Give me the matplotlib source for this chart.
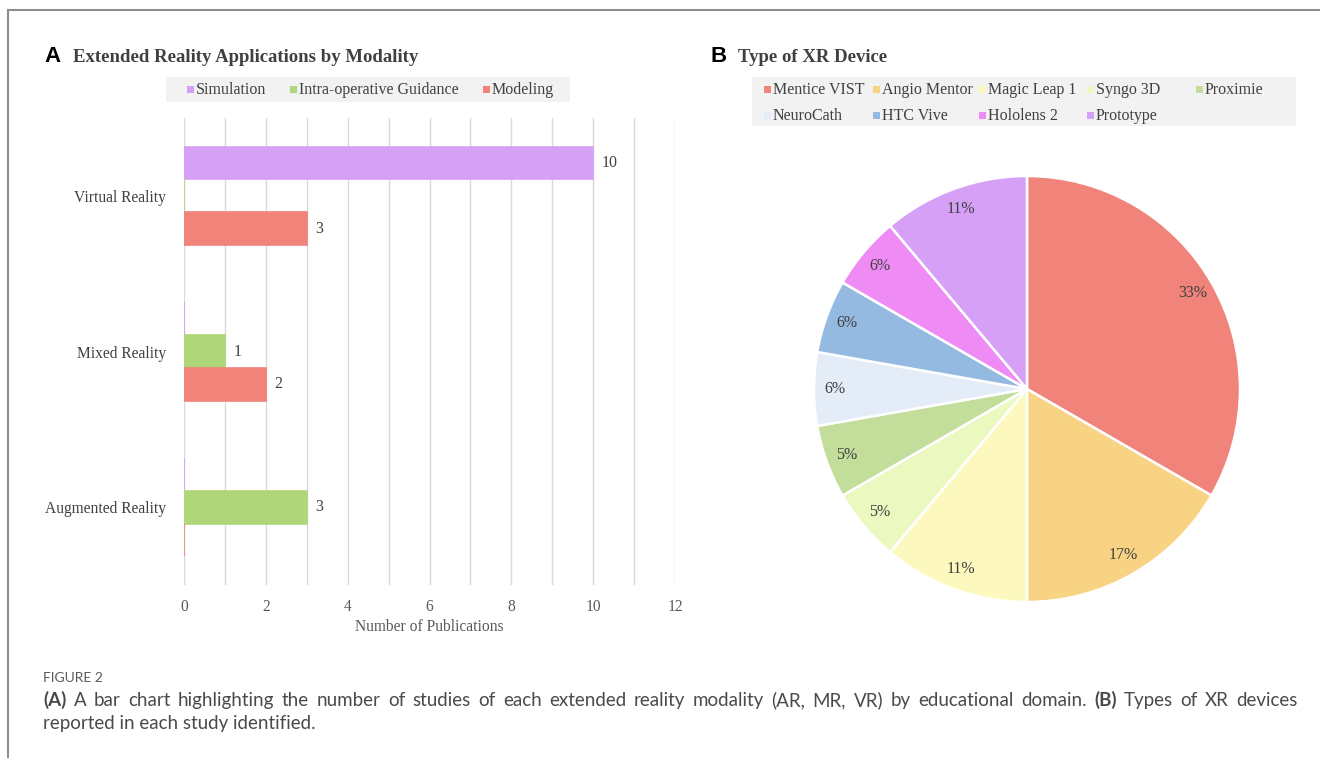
import matplotlib
matplotlib.use("Agg")
import matplotlib.pyplot as plt
from matplotlib.patches import Rectangle
import numpy as np

# ---- data ----
modalities = ["Augmented Reality", "Mixed Reality", "Virtual Reality"]
series_names = ["Simulation", "Intra-operative Guidance", "Modeling"]
simulation = [0, 0, 10]
guidance = [3, 1, 0]
modeling = [0, 2, 3]
bar_colors = ["#D5A0F5", "#B0D67A", "#F0837A"]

devices = ["Mentice VIST", "Angio Mentor", "Magic Leap 1", "Syngo 3D", "Proximie",
           "NeuroCath", "HTC Vive", "Hololens 2", "Prototype"]
device_counts = [6, 3, 2, 1, 1, 1, 1, 1, 2]
device_pct_labels = ["33%", "17%", "11%", "5%", "5%", "6%", "6%", "6%", "11%"]
device_colors = ["#F0837A", "#F8D383", "#FDF9BE", "#EBF8C0", "#C2DE9A",
                 "#E4ECF8", "#95BAE1", "#EE8BF5", "#D5A0F5"]

W, H = 1320, 758
TXT = "#404040"
SERIF = "Liberation Serif"

fig = plt.figure(figsize=(W / 100, H / 100), dpi=100)

# overlay in pixel coordinates for frame, titles, legends and caption
deco = fig.add_axes([0, 0, 1, 1], zorder=-1)
deco.set_xlim(0, W)
deco.set_ylim(H, 0)
deco.axis("off")

# page frame
deco.plot([8, W], [10, 10], color="#8c8c8c", lw=1.5)
deco.plot([8, 8], [10, H], color="#8c8c8c", lw=1.5)

# panel letters + titles
deco.text(44, 57, "A", fontfamily="Liberation Sans", fontweight="bold", fontsize=16, va="center", color="black")
deco.text(73, 57, "Extended Reality Applications by Modality", fontfamily=SERIF,
          fontweight="bold", fontsize=13.5, va="center", color=TXT)
deco.text(711, 57, "B", fontfamily="Liberation Sans", fontweight="bold", fontsize=16, va="center", color="black")
deco.text(738, 57, "Type of XR Device", fontfamily=SERIF,
          fontweight="bold", fontsize=13.5, va="center", color=TXT)


def legend_row(names, colors, xs, y):
    for name, c, x in zip(names, colors, xs):
        deco.add_patch(Rectangle((x - 3, y - 3.5), 6.5, 6.5, color=c, lw=0))
        deco.text(x + 6, y, name, fontfamily=SERIF, fontsize=11.5, va="center", color=TXT)


# legend A
deco.add_patch(Rectangle((166, 77), 404, 25, color="#F2F2F2", lw=0))
legend_row(series_names, bar_colors, [190, 293, 486], 89.5)

# legend B
deco.add_patch(Rectangle((752, 77), 544, 49, color="#F2F2F2", lw=0))
legend_row(devices[:5], device_colors[:5], [767, 876, 982, 1090, 1199], 89.5)
legend_row(devices[5:], device_colors[5:], [767, 876, 982, 1090], 115.5)

# ---- panel A: grouped horizontal bars ----
ax = fig.add_axes([184 / W, 1 - 585 / H, 491 / W, 467 / H])
y = np.arange(len(modalities))
h = 0.21
for vals, off, c in zip([simulation, guidance, modeling], [h, 0, -h], bar_colors):
    bars = ax.barh(y + off, vals, height=h, color=c, edgecolor=c, linewidth=1.2, zorder=3)
    ax.bar_label(bars, labels=[str(v) if v else "" for v in vals], padding=6,
                 fontfamily=SERIF, fontsize=11.5, color=TXT)

ax.set_xlim(0, 12)
ax.set_ylim(-0.5, 2.5)
ax.set_xticks(np.arange(0, 13, 2))
ax.set_xticks(np.arange(1, 12, 2), minor=True)
ax.set_yticks(y)
ax.set_yticklabels(modalities)
ax.grid(axis="x", which="both", color="#D9D9D9", lw=1, zorder=0)
ax.tick_params(which="both", length=0, labelsize=11.2, labelcolor="#595959", pad=10)
ax.tick_params(axis="y", pad=13, labelcolor=TXT)
for lab in ax.get_xticklabels() + ax.get_yticklabels():
    lab.set_fontfamily(SERIF)
for s in ax.spines.values():
    s.set_visible(False)
ax.set_xlabel("Number of Publications", fontfamily=SERIF, fontsize=11.2, color="#595959", labelpad=3)

# ---- panel B: pie ----
R = 213
pax = fig.add_axes([(1027 - R) / W, 1 - (389 + R) / H, 2 * R / W, 2 * R / H])
wedges, _ = pax.pie(device_counts, colors=device_colors, startangle=90, counterclock=False,
                    wedgeprops=dict(edgecolor="white", linewidth=1.8))
total = sum(device_counts)
cum = 0
for cnt, lab in zip(device_counts, device_pct_labels):
    mid = np.deg2rad(90 - 360 * (cum + cnt / 2) / total)
    pax.text(0.9 * np.cos(mid), 0.9 * np.sin(mid), lab, ha="center", va="center",
             fontfamily=SERIF, fontsize=11.5, color=TXT)
    cum += cnt
pax.set_xlim(-1, 1)
pax.set_ylim(-1, 1)
pax.set_aspect("equal")

# ---- caption ----
CAP = "Lato"
deco.text(43, 682, "FIGURE 2", fontfamily=CAP, fontsize=10, color="#5a5a5a", va="baseline")

line1 = [("(A)", True)] + [(w, False) for w in
         "A bar chart highlighting the number of studies of each extended reality modality (AR, MR, VR) by educational domain.".split()] \
        + [("(B)", True)] + [(w, False) for w in "Types of XR devices".split()]
r = fig.canvas.get_renderer()
arts = [deco.text(0, 706, w, fontfamily=CAP, fontsize=13.5, color="#4a4a4a", va="baseline",
                  fontweight="bold" if b else "normal") for w, b in line1]
widths = [a.get_window_extent(r).width for a in arts]
gap = (1298 - 43 - sum(widths)) / (len(arts) - 1)
x = 43
for a, wd in zip(arts, widths):
    a.set_x(x)
    x += wd + gap
deco.text(43, 729, "reported in each study identified.", fontfamily=CAP, fontsize=13.5,
          color="#4a4a4a", va="baseline")

fig.savefig("out.png", dpi=100)
